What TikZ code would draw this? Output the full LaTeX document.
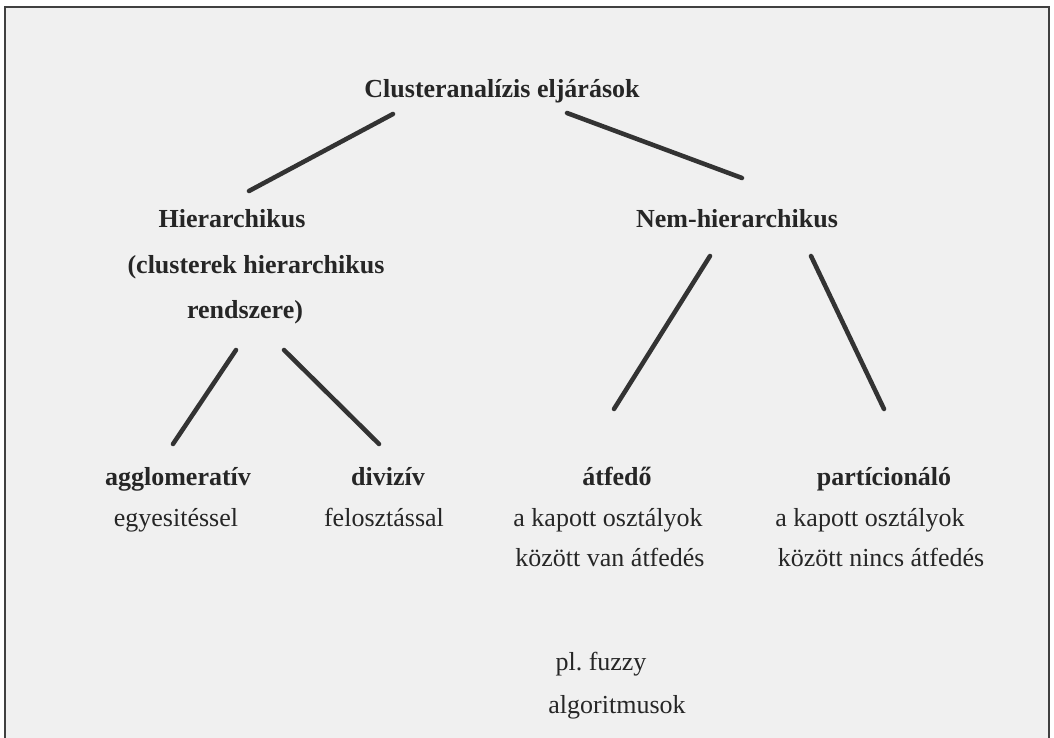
\documentclass[tikz,border=0pt]{standalone}
\usepackage{fontspec}
\setmainfont{Liberation Serif}
\begin{document}
\begin{tikzpicture}[x=0.75pt,y=-0.75pt,
  lbl/.style={inner sep=0pt,anchor=base,font=\fontsize{19.5}{23}\selectfont,text=black!85},
  hd/.style={lbl,font=\fontsize{19.5}{23}\selectfont\bfseries},
  edge/.style={line width=3.4pt,draw=black!80,line cap=round}]
\useasboundingbox (0,0) rectangle (1054,738);
\fill[white] (0,0) rectangle (1054,738);
\filldraw[fill=black!6,draw=black!75,line width=2pt] (5,7) rectangle (1049,760);
% headings
\node[hd] (root) at (502,98) {Clusteranalízis eljárások};
\node[hd] (hier) at (232,228) {Hierarchikus};
\node[hd] (hier2) at (256,273) {(clusterek hierarchikus};
\node[hd] (hier3) at (245,318) {rendszere)};
\node[hd] (nem) at (737,228) {Nem-hierarchikus};
\node[hd] (agg) at (178,485) {agglomeratív};
\node[lbl] (agg2) at (176,526) {egyesitéssel};
\node[hd] (div) at (388,485) {divizív};
\node[lbl] (div2) at (384,526) {felosztással};
\node[hd] (atf) at (617,485) {átfedő};
\node[lbl] (atf2) at (608,526) {a kapott osztályok};
\node[lbl] (atf3) at (610,566) {között van átfedés};
\node[hd] (part) at (884,485) {partícionáló};
\node[lbl] (part2) at (870,526) {a kapott osztályok};
\node[lbl] (part3) at (881,566) {között nincs átfedés};
\node[lbl] (pl) at (601,670) {pl.\ fuzzy};
\node[lbl] (alg) at (617,713) {algoritmusok};
% connector end points
\coordinate (r1) at (393,114);
\coordinate (h1) at (249,191);
\coordinate (r2) at (567,113);
\coordinate (n1) at (742,178);
\coordinate (h2) at (236,350);
\coordinate (a1) at (173,444);
\coordinate (h3) at (284,350);
\coordinate (d1) at (379,444);
\coordinate (n2) at (710,256);
\coordinate (t1) at (614,409);
\coordinate (n3) at (811,256);
\coordinate (p1) at (884,409);
\draw[edge] (r1) -- (h1);
\draw[edge] (r2) -- (n1);
\draw[edge] (h2) -- (a1);
\draw[edge] (h3) -- (d1);
\draw[edge] (n2) -- (t1);
\draw[edge] (n3) -- (p1);
\end{tikzpicture}
\end{document}
